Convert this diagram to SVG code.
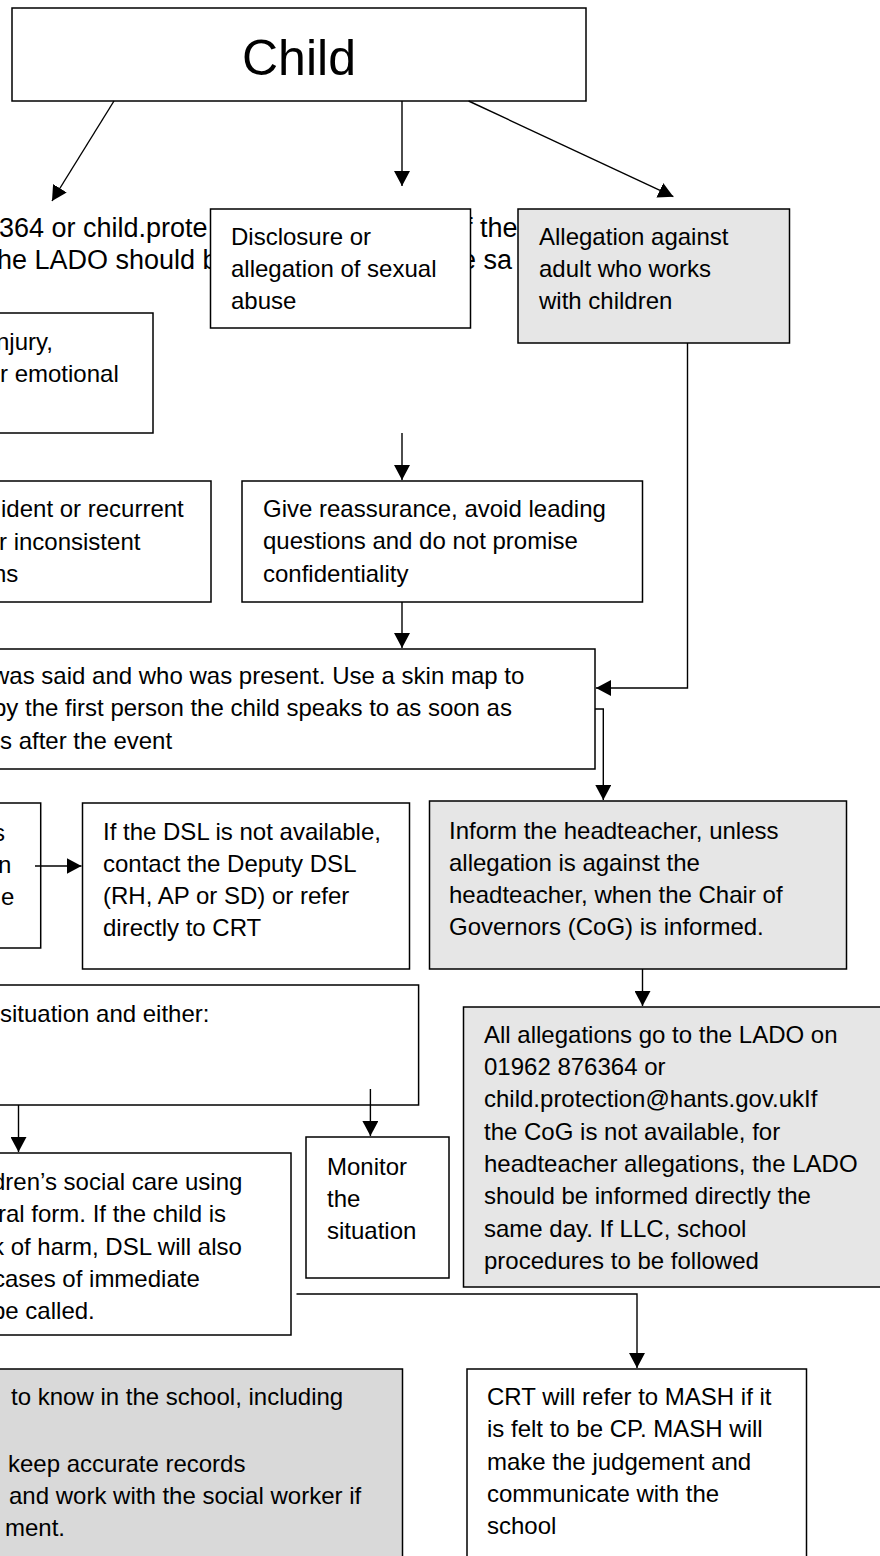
<svg xmlns="http://www.w3.org/2000/svg" width="880" height="1556" viewBox="0 0 880 1556">
<defs>
<style>
.box{fill:#ffffff;stroke:#000;stroke-width:1.5}
.g1{fill:#e6e6e6}
.g2{fill:#d9d9d9}
text{font-family:"Liberation Sans",Arial,sans-serif;font-size:24px;fill:#000}
.bg{font-size:27px}
.title{font-size:50px}
.c{fill:none;stroke:#000;stroke-width:1.4}
</style>
<marker id="ah" viewBox="0 0 15 16" refX="15" refY="8" markerWidth="15" markerHeight="16" markerUnits="userSpaceOnUse" orient="auto">
<path d="M0,0 L15,8 L0,16 z" fill="#000"/>
</marker>
</defs>
<rect width="880" height="1556" fill="#fff"/>

<g id="background-text">
<text class="bg" x="-1" y="237">364 or child.prote</text>
<text class="bg" x="465" y="237">f the</text>
<text class="bg" x="-3" y="269">he LADO should be</text>
<text class="bg" x="461" y="269">e sa</text>
</g>

<g id="child">
<rect class="box" x="12" y="8" width="574" height="93"/>
<text class="title" x="299" y="75" text-anchor="middle">Child</text>
</g>

<g id="disclosure">
<rect class="box" x="210.5" y="209" width="260" height="119"/>
<text x="231" y="245">Disclosure or</text>
<text x="231" y="277">allegation of sexual</text>
<text x="231" y="309">abuse</text>
</g>

<g id="allegation">
<rect class="box g1" x="518" y="209" width="271.5" height="134"/>
<text x="539" y="245">Allegation against</text>
<text x="539" y="277">adult who works</text>
<text x="539" y="309">with children</text>
</g>

<g id="injury">
<rect class="box" x="-5" y="313" width="158" height="120"/>
<text x="-4" y="350">njury,</text>
<text x="0" y="382">r emotional</text>
</g>

<g id="incident">
<rect class="box" x="-5" y="481" width="216" height="121"/>
<text x="1" y="517">ident or recurrent</text>
<text x="-1" y="550">r inconsistent</text>
<text x="-7" y="582">ns</text>
</g>

<g id="reassurance">
<rect class="box" x="242" y="481" width="400.5" height="121"/>
<text x="263" y="517">Give reassurance, avoid leading</text>
<text x="263" y="549">questions and do not promise</text>
<text x="263" y="582">confidentiality</text>
</g>

<g id="record">
<rect class="box" x="-5" y="649" width="600" height="120"/>
<text x="-8" y="684">was said and who was present. Use a skin map to</text>
<text x="-7" y="716">by the first person the child speaks to as soon as</text>
<text x="0" y="749">s after the event</text>
</g>

<g id="dsl-left">
<rect class="box" x="-5" y="803" width="45.7" height="145"/>
<text x="-7" y="841">s</text>
<text x="-2" y="873">n</text>
<text x="1" y="905">e</text>
</g>

<g id="deputy-dsl">
<rect class="box" x="82.5" y="803" width="327" height="166"/>
<text x="103" y="840">If the DSL is not available,</text>
<text x="103" y="872">contact the Deputy DSL</text>
<text x="103" y="904">(RH, AP or SD) or refer</text>
<text x="103" y="936">directly to CRT</text>
</g>

<g id="inform-head">
<rect class="box g1" x="429.5" y="801" width="417" height="168"/>
<text x="449" y="839">Inform the headteacher, unless</text>
<text x="449" y="871">allegation is against the</text>
<text x="449" y="903">headteacher, when the Chair of</text>
<text x="449" y="935">Governors (CoG) is informed.</text>
</g>

<g id="situation">
<rect class="box" x="-5" y="985" width="423.6" height="120"/>
<text x="0" y="1022">situation and either:</text>
</g>

<g id="lado">
<rect class="box g1" x="463.5" y="1007" width="430" height="280"/>
<text x="484" y="1043">All allegations go to the LADO on</text>
<text x="484" y="1075">01962 876364 or</text>
<text x="484" y="1107">child.protection@hants.gov.ukIf</text>
<text x="484" y="1140">the CoG is not available, for</text>
<text x="484" y="1172">headteacher allegations, the LADO</text>
<text x="484" y="1204">should be informed directly the</text>
<text x="484" y="1237">same day. If LLC, school</text>
<text x="484" y="1269">procedures to be followed</text>
</g>

<g id="referral">
<rect class="box" x="-5" y="1153" width="296" height="182"/>
<text x="-8" y="1190">dren’s social care using</text>
<text x="-2" y="1222">ral form. If the child is</text>
<text x="-8" y="1255">k of harm, DSL will also</text>
<text x="-7" y="1287">cases of immediate</text>
<text x="-8" y="1319">be called.</text>
</g>

<g id="monitor">
<rect class="box" x="306" y="1137" width="143" height="141"/>
<text x="327" y="1175">Monitor</text>
<text x="327" y="1207">the</text>
<text x="327" y="1239">situation</text>
</g>

<g id="school-actions">
<rect class="box g2" x="-5" y="1369" width="407.5" height="200"/>
<text x="11" y="1405">to know in the school, including</text>
<text x="8" y="1472">keep accurate records</text>
<text x="9" y="1504">and work with the social worker if</text>
<text x="5" y="1536">ment.</text>
</g>

<g id="crt-mash">
<rect class="box" x="467" y="1369" width="339.5" height="200"/>
<text x="487" y="1405">CRT will refer to MASH if it</text>
<text x="487" y="1437">is felt to be CP. MASH will</text>
<text x="487" y="1470">make the judgement and</text>
<text x="487" y="1502">communicate with the</text>
<text x="487" y="1534">school</text>
</g>

<g id="connectors">
<path class="c" d="M114,101 L52,201" marker-end="url(#ah)"/>
<path class="c" d="M402,101 V186" marker-end="url(#ah)"/>
<path class="c" d="M468.6,101 L673.4,196.7" marker-end="url(#ah)"/>
<path class="c" d="M402,433 V480" marker-end="url(#ah)"/>
<path class="c" d="M402,602 V648" marker-end="url(#ah)"/>
<path class="c" d="M687.5,343 V688 H596" marker-end="url(#ah)"/>
<path class="c" d="M595,709 H603.3 V800" marker-end="url(#ah)"/>
<path class="c" d="M35,866 H81.5" marker-end="url(#ah)"/>
<path class="c" d="M642.5,969 V1006" marker-end="url(#ah)"/>
<path class="c" d="M18.5,1105 V1152" marker-end="url(#ah)"/>
<path class="c" d="M370.4,1089 V1136" marker-end="url(#ah)"/>
<path class="c" d="M296.5,1294 H637 V1368" marker-end="url(#ah)"/>
</g>
</svg>
